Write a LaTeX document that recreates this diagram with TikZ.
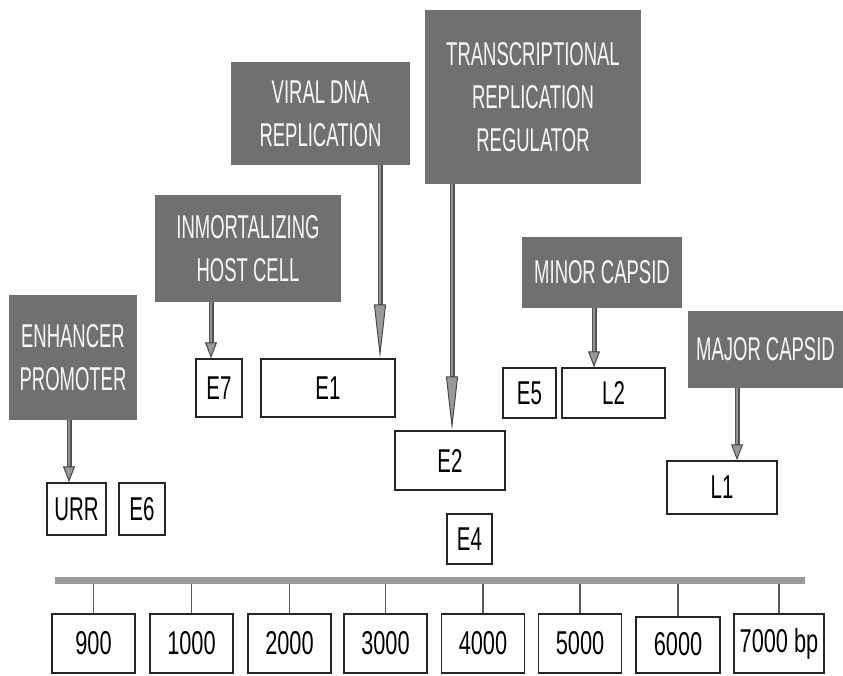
\documentclass[tikz,border=0pt]{standalone}
\usepackage{fontspec}
\setmainfont{Liberation Sans}
\newfontfamily\glab[FakeStretch=0.56]{Liberation Sans}
\newfontfamily\wlab[FakeStretch=0.62]{Liberation Sans}
\newfontfamily\nlab[FakeStretch=0.66]{Liberation Sans}
\usetikzlibrary{arrows.meta}
\definecolor{boxgray}{HTML}{707070}
\definecolor{bargray}{HTML}{9A9A9A}
\begin{document}
\begin{tikzpicture}[x=1pt,y=-1pt,
  gbox/.style={fill=boxgray, draw=none, inner sep=0pt, align=center,
    text=white!94!gray, font=\glab\fontsize{33}{43}\selectfont},
  wbox/.style={draw=black!85, line width=1.5pt, fill=white, inner sep=0pt,
    font=\wlab\fontsize{33}{37}\selectfont},
  nbox/.style={draw=black!85, line width=1.5pt, fill=white, inner sep=0pt,
    minimum height=59pt, font=\nlab\fontsize{33}{36}\selectfont},
  shaft/.style={line width=5pt, draw=black!68},
  inner/.style={line width=2pt, draw=black!42},
  shorthead/.style={-{Triangle[length=16pt,width=12pt,line width=1pt,color=black!72,fill=black!40]}},
  longhead/.style={-{Triangle[length=54pt,width=12pt,line width=1pt,color=black!72,fill=black!40]}},
  tick/.style={line width=1.1pt, draw=black!65}
]
\useasboundingbox (0,0) rectangle (843,675);

% grey function boxes
\node[gbox, minimum width=128pt, minimum height=125pt] (enh) at (73,357.5) {ENHANCER\\PROMOTER};
\node[gbox, minimum width=186pt, minimum height=107pt] (imm) at (248,248.5) {INMORTALIZING\\HOST CELL};
\node[gbox, minimum width=179pt, minimum height=103pt] (vir) at (320.5,113.5) {VIRAL DNA\\REPLICATION};
\node[gbox, minimum width=216pt, minimum height=174pt] (trn) at (533,97) {TRANSCRIPTIONAL\\REPLICATION\\REGULATOR};
\node[gbox, minimum width=160pt, minimum height=71pt] (min) at (602,272.5) {MINOR CAPSID};
\node[gbox, minimum width=155pt, minimum height=77pt] (maj) at (765.5,349.5) {MAJOR CAPSID};

% gene boxes
\node[wbox, minimum width=59pt, minimum height=52pt] (urr) at (76.5,509) {URR};
\node[wbox, minimum width=46pt, minimum height=52pt] (e6) at (142,509) {E6};
\node[wbox, minimum width=46pt, minimum height=58pt] (e7) at (219,388) {E7};
\node[wbox, minimum width=134pt, minimum height=58pt] (e1) at (328,388) {E1};
\node[wbox, minimum width=110pt, minimum height=59pt] (e2) at (450,460.5) {E2};
\node[wbox, minimum width=45pt, minimum height=50pt] (e4) at (469.5,539) {E4};
\node[wbox, minimum width=53pt, minimum height=50pt] (e5) at (529.5,393) {E5};
\node[wbox, minimum width=103pt, minimum height=50pt] (l2) at (613.5,393) {L2};
\node[wbox, minimum width=110pt, minimum height=53pt] (l1) at (722,487.5) {L1};

% arrows
\foreach \s/\t/\ds/\dt/\h in {enh/urr/-4/-7.5/shorthead, imm/e7/-37/-8/shorthead,
  vir/e1/59.5/52/longhead, trn/e2/-81/2/longhead, min/l2/-8/-19.5/shorthead,
  maj/l1/-28.5/15/shorthead}{
  \draw[shaft,\h] ([xshift=\ds pt]\s.south) -- ([xshift=\dt pt]\t.north);
}
\foreach \s/\t/\ds/\dt/\L in {enh/urr/-4/-7.5/16, imm/e7/-37/-8/16,
  vir/e1/59.5/52/54, trn/e2/-81/2/54, min/l2/-8/-19.5/16,
  maj/l1/-28.5/15/16}{
  \draw[inner, shorten >=\L pt] ([xshift=\ds pt]\s.south) -- ([xshift=\dt pt]\t.north);
}

% scale bar
\node[fill=bargray, inner sep=0pt, minimum width=750pt, minimum height=7pt] (axis) at (430,580.5) {};

\node[nbox, minimum width=83pt] (b1) at (93.5,643.5) {900};
\node[nbox, minimum width=83pt] (b2) at (191.5,643.5) {1000};
\node[nbox, minimum width=83pt] (b3) at (289.5,643.5) {2000};
\node[nbox, minimum width=83pt] (b4) at (385.5,643.5) {3000};
\node[nbox, minimum width=83pt] (b5) at (483,643.5) {4000};
\node[nbox, minimum width=83pt] (b6) at (580,643.5) {5000};
\node[nbox, minimum width=84pt, minimum height=56pt] (b7) at (678,645) {\raisebox{3pt}{6000}};
\node[nbox, minimum width=90pt] (b8) at (779,643.5) {7000 bp};

\foreach \b in {b1,b2,b3,b4,b5,b6,b7,b8}{
  \draw[tick] (\b.north |- axis.south) -- (\b.north);
}
\end{tikzpicture}
\end{document}
